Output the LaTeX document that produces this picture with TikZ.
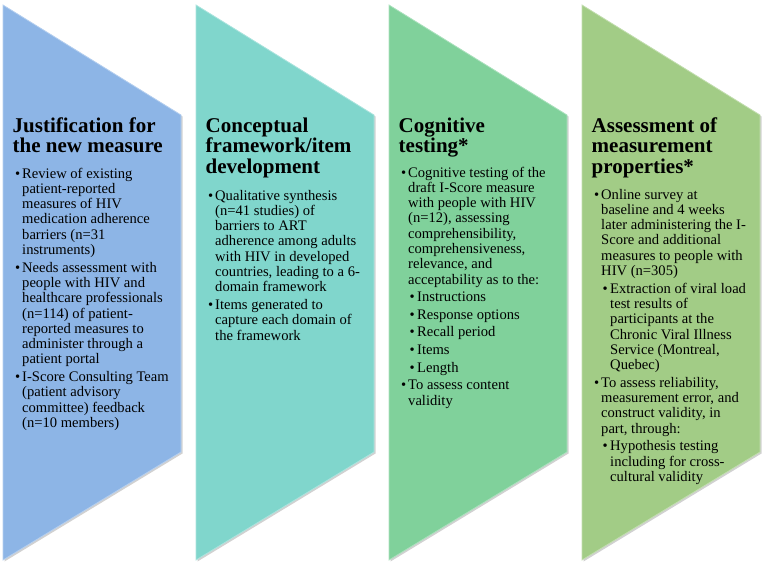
\documentclass[tikz,border=0pt]{standalone}
\usepackage{fontspec}
\setmainfont{Liberation Serif}
\definecolor{cBlue}{HTML}{8DB5E6}
\definecolor{cTeal}{HTML}{80D6CC}
\definecolor{cGreen}{HTML}{80D19B}
\definecolor{cOlive}{HTML}{A2CC86}
\newcommand\mitem[1]{\par{\hangindent=7pt\hangafter=1\noindent\makebox[7pt][l]{\textbullet}#1\par}}
\newcommand\sitem[1]{\par{\hangindent=16pt\hangafter=1\noindent\hspace*{8.5pt}\makebox[7.5pt][l]{\textbullet}#1\par}}
\newcommand\bodytext[1]{\vtop{\hsize=200pt\parindent=0pt\parskip=2.3pt\fontsize{14.6pt}{15.3pt}\selectfont #1}}
\newcommand\headtext[1]{\vtop{\hsize=200pt\parindent=0pt\fontsize{21pt}{20.7pt}\selectfont\bfseries #1}}
\tikzset{
  chev/.style={fill=#1, draw=#1!65!white, line width=0.8pt},
  chevshadow/.style={fill=black, opacity=0.18},
  headnode/.style={anchor=base west, inner sep=0pt},
  bodynode/.style={anchor=base west, inner sep=0pt}
}
\begin{document}
\begin{tikzpicture}[x=1pt,y=-1pt]
\useasboundingbox (0,0) rectangle (762,567);
% shapes
\foreach \i/\c in {0/cBlue,1/cTeal,2/cGreen,3/cOlive}{
  \pgfmathsetmacro\L{3+193*\i}
  \pgfmathsetmacro\R{\L+178}
  \fill[chevshadow] (\L+1.5,6.5) -- (\R+1.5,116.5) -- (\R+1.5,453.5) -- (\L+1.5,561.5) -- cycle;
  \path[chev=\c] (\L,5) -- (\R,115) -- (\R,452) -- (\L,560) -- cycle;
}
% column 1
\node[headnode] (h1) at (12.5,132) {\headtext{Justification for\\the new measure}};
\node[bodynode] (b1) at (15,178) {\bodytext{%
\mitem{Review of existing\\patient-reported\\measures of HIV\\medication adherence\\barriers (n=31\\instruments)}
\mitem{Needs assessment with\\people with HIV and\\healthcare professionals\\(n=114) of patient-\\reported measures to\\administer through a\\patient portal}
\mitem{I-Score Consulting Team\\(patient advisory\\committee) feedback\\(n=10 members)}}};
% column 2
\node[headnode] (h2) at (205.5,132) {\headtext{Conceptual\\framework/item\\development}};
\node[bodynode] (b2) at (208,200) {\bodytext{%
\mitem{Qualitative synthesis\\(n=41 studies) of\\barriers to ART\\adherence among adults\\with HIV in developed\\countries, leading to a 6-\\domain framework}
\mitem{Items generated to\\capture each domain of\\the framework}}};
% column 3
\node[headnode] (h3) at (398.5,132) {\headtext{Cognitive\\testing*}};
\node[bodynode] (b3) at (401,177) {\bodytext{%
\mitem{Cognitive testing of the\\draft I-Score measure\\with people with HIV\\(n=12), assessing\\comprehensibility,\\comprehensiveness,\\relevance, and\\acceptability as to the:}
\sitem{Instructions}
\sitem{Response options}
\sitem{Recall period}
\sitem{Items}
\sitem{Length}
\mitem{To assess content\\validity}}};
% column 4
\node[headnode] (h4) at (591.5,132) {\headtext{Assessment of\\measurement\\properties*}};
\node[bodynode] (b4) at (594,199) {\bodytext{%
\mitem{Online survey at\\baseline and 4 weeks\\later administering the I-\\Score and additional\\measures to people with\\HIV (n=305)}
\sitem{Extraction of viral load\\test results of\\participants at the\\Chronic Viral Illness\\Service (Montreal,\\Quebec)}
\mitem{To assess reliability,\\measurement error, and\\construct validity, in\\part, through:}
\sitem{Hypothesis testing\\including for cross-\\cultural validity}}};
\end{tikzpicture}
\end{document}
